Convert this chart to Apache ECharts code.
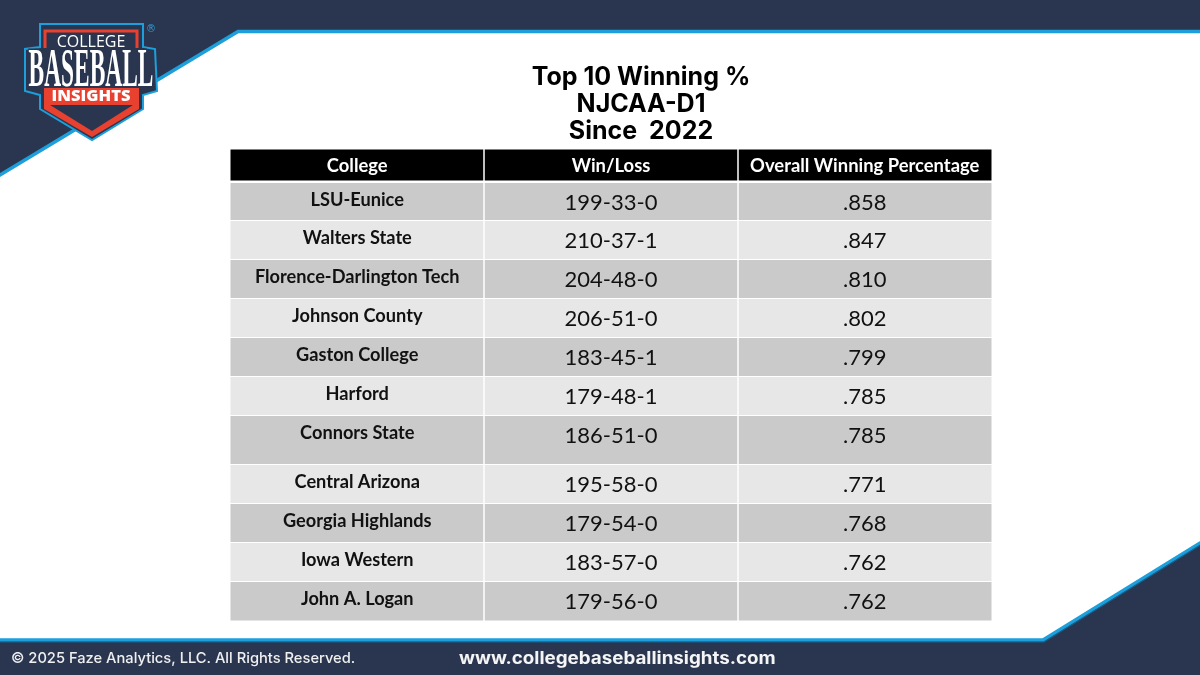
<!DOCTYPE html>
<html><head><meta charset="utf-8">
<style>html,body{margin:0;padding:0;background:#fff}#c{width:1200px;height:675px}</style>
<script src="https://cdn.jsdelivr.net/npm/echarts@6/dist/echarts.min.js"></script>
</head><body><div id="c"></div>
<script>
const titleLines = ['Top 10 Winning %', 'NJCAA-D1', 'Since  2022'];
const headers = ['College', 'Win/Loss', 'Overall Winning Percentage'];
const colleges = ['LSU-Eunice','Walters State','Florence-Darlington Tech','Johnson County','Gaston College','Harford','Connors State','Central Arizona','Georgia Highlands','Iowa Western','John A. Logan'];
const records = ['199-33-0','210-37-1','204-48-0','206-51-0','183-45-1','179-48-1','186-51-0','195-58-0','179-54-0','183-57-0','179-56-0'];
const winPct = ['.858','.847','.810','.802','.799','.785','.785','.771','.768','.762','.762'];

// layout (axis units equal canvas pixels)
const colEdges = [230.5, 484, 738, 991.5];
const rowTops = [149.5, 183, 221, 260, 299, 338, 377, 416, 465, 504, 543, 582];
const rowBottoms = [180.5, 220, 259, 298, 337, 376, 415, 464, 503, 542, 581, 620.5];

const columns = [colleges, records, winPct];
const cells = [];
headers.forEach((h, c) => cells.push({ value: [c, 0], label: h }));
colleges.forEach((_, r) => columns.forEach((col, c) => cells.push({ value: [c, r + 1], label: col[r] })));

function renderCell(params, api) {
  const c = api.value(0), r = api.value(1);
  const tl = api.coord([colEdges[c] + (c ? 0.75 : 0), rowTops[r]]);
  const br = api.coord([colEdges[c + 1] - (c < 2 ? 0.75 : 0), rowBottoms[r]]);
  const cx = api.coord([(colEdges[c] + colEdges[c + 1]) / 2, 0])[0];
  const fill = r === 0 ? '#000000' : (r % 2 ? '#CACACA' : '#E7E7E7');
  let font, color = '#111111', ty;
  if (r === 0) { font = '700 18.4px Lato'; color = '#FFFFFF'; ty = tl[1] + 17; }
  else if (c === 0) { font = '700 18.2px Lato'; ty = tl[1] + 17; }
  else { font = '400 22px Lato'; ty = tl[1] + 20; }
  return { type: 'group', children: [
    { type: 'rect', shape: { x: tl[0], y: tl[1], width: br[0] - tl[0], height: br[1] - tl[1] }, style: { fill: fill } },
    { type: 'text', style: { text: cells[params.dataIndex].label, x: cx, y: ty, align: 'center', verticalAlign: 'middle', font: font, fill: color } }
  ]};
}

const NAVY = '#2A3650', BLUE = '#1C9FDB', RED = '#E8412F';
const panel = [[-10,181],[238,31.5],[1210,31.5],[1210,537],[1043,640],[-10,640]];
function T(text, x, y, font, fill, extra) {
  return Object.assign({ type: 'text', x: x, y: y, z: 5, style: Object.assign({ text: text, font: font, fill: fill, align: 'center', verticalAlign: 'middle' }, extra && extra.style) }, extra && extra.el);
}
const graphicEls = [
  { type: 'rect', shape: { x: 0, y: 0, width: 1200, height: 675 }, style: { fill: NAVY }, z: 0 },
  { type: 'polygon', shape: { points: panel }, style: { fill: '#FFFFFF', stroke: BLUE, lineWidth: 3.5, lineJoin: 'miter' }, z: 1 },
  { type: 'polyline', shape: { points: [[-10,642],[1044,642],[1210,539]] }, style: { fill: 'none', stroke: '#17608F', lineWidth: 1.2 }, z: 1 },
  // logo
  { type: 'polygon', shape: { points: [[40,24],[143,24],[143,47],[155,49],[157,91],[143,95],[143,109],[92,140],[40,109],[40,95],[25,91],[25,49],[40,47]] }, style: { fill: NAVY, stroke: '#1C9FDB', lineWidth: 2 }, z: 3 },
  { type: 'polyline', shape: { points: [[45,48],[45,31],[137,31],[137,48]] }, style: { fill: 'none', stroke: RED, lineWidth: 3 }, z: 4 },
  { type: 'polygon', shape: { points: [[44,88],[139,88],[139,109],[92,137],[44,109]] }, style: { fill: RED }, z: 4 },
  { type: 'polygon', shape: { points: [[50,105],[133,105],[92,131]] }, style: { fill: NAVY }, z: 4 },
  T('COLLEGE', 91, 42.5, '500 16px "Open Sans"', '#FFFFFF'),
  T('BASEBALL', 91, 72, '700 60px "Liberation Serif"', '#FFFFFF', { style: { stroke: NAVY, lineWidth: 3 }, el: { scaleX: 0.39, scaleY: 0.92 } }),
  T('INSIGHTS', 91, 96, '800 16.5px "Open Sans"', '#FFFFFF'),
  T('®', 151, 29, '400 10px "DejaVu Sans"', '#2F9FD8'),
  // footer
  T('© 2025 Faze Analytics, LLC. All Rights Reserved.', 11, 659, '500 14.7px Inter', '#F0F0F0', { style: { align: 'left' } }),
  T('www.collegebaseballinsights.com', 459, 659, '700 17px Inter', '#F5F5F5', { style: { align: 'left' }, el: { scaleX: 1.105 } })
];

const chart = echarts.init(document.getElementById('c'), null, { renderer: 'canvas' });
chart.setOption({
  animation: false,
  title: { text: titleLines.join('\n'), left: 641, top: 64, padding: 0, textAlign: 'center', z: 6,
    textStyle: { fontFamily: 'Inter', fontWeight: 700, fontSize: 25, lineHeight: 27, color: '#000000' } },
  grid: { left: 0, right: 0, top: 0, bottom: 0 },
  xAxis: { type: 'value', min: 0, max: 1200, show: false },
  yAxis: { type: 'value', min: 0, max: 675, inverse: true, show: false },
  graphic: { elements: graphicEls },
  series: [{ type: 'custom', coordinateSystem: 'cartesian2d', renderItem: renderCell, data: cells, clip: false, silent: true, z: 10 }]
});
</script></body></html>
